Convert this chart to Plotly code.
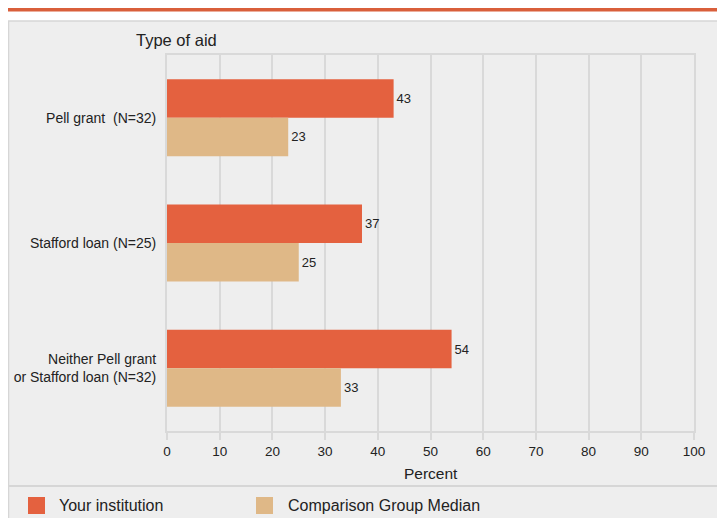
import plotly.graph_objects as go

categories = ["Pell grant  (N=32)", "Stafford loan (N=25)", "Neither Pell grant<br>or Stafford loan (N=32)"]
your_institution = [43, 37, 54]
comparison_median = [23, 25, 33]
series_names = ["Your institution", "Comparison Group Median"]
x_ticks = [0, 10, 20, 30, 40, 50, 60, 70, 80, 90, 100]

ORANGE = "#e4613f"
TAN = "#dfb887"
GRID = "#d9d9d9"
BG = "#eeeeee"
TXT = "#222222"
FONT = "Liberation Sans, Arial, sans-serif"

OFF = 8  # page body margin
W, H = 725 - OFF, 518 - OFF
# plot area in page pixels of the reference
L, R, T, B = 167, 694, 55, 431
PW, PH = R - L, B - T


def px(x):
    return (x - L) / PW


def py(y):
    return (B - y) / PH


fig = go.Figure()
fig.add_trace(go.Bar(
    y=categories, x=your_institution, name=series_names[0], orientation="h",
    marker=dict(color=ORANGE, line=dict(width=0)),
    text=your_institution, textposition="outside", cliponaxis=False,
    textfont=dict(size=13, color=TXT, family=FONT),
))
fig.add_trace(go.Bar(
    y=categories, x=comparison_median, name=series_names[1], orientation="h",
    marker=dict(color=TAN, line=dict(width=0)),
    text=comparison_median, textposition="outside", cliponaxis=False,
    textfont=dict(size=13, color=TXT, family=FONT),
))

shapes = [
    # grey panel
    dict(type="rect", xref="paper", yref="paper", x0=px(8.5), x1=px(730), y0=py(21), y1=py(530),
         fillcolor=BG, line=dict(color="#d6d6d6", width=1.5), layer="below"),
    # orange top rule
    dict(type="rect", xref="paper", yref="paper", x0=px(8), x1=px(730), y0=py(6.5), y1=py(11.5),
         fillcolor="#d95f3b", line=dict(width=0), layer="below"),
    # separator above legend
    dict(type="line", xref="paper", yref="paper", x0=px(8), x1=px(730), y0=py(486), y1=py(486),
         line=dict(color="#d6d6d6", width=2), layer="below"),
    # legend swatches
    dict(type="rect", xref="paper", yref="paper", x0=px(28), x1=px(45), y0=py(497), y1=py(514),
         fillcolor=ORANGE, line=dict(width=0)),
    dict(type="rect", xref="paper", yref="paper", x0=px(256), x1=px(273), y0=py(497), y1=py(514),
         fillcolor=TAN, line=dict(width=0)),
]

annotations = [
    dict(text="Type of aid", xref="paper", yref="paper", x=px(134), y=py(40),
         xanchor="left", yanchor="middle", showarrow=False,
         font=dict(size=16.5, color=TXT, family=FONT)),
    dict(text="Percent", xref="paper", yref="paper", x=0.5, y=py(473),
         xanchor="center", yanchor="middle", showarrow=False,
         font=dict(size=15.5, color=TXT, family=FONT)),
    dict(text=series_names[0], xref="paper", yref="paper", x=px(57), y=py(505),
         xanchor="left", yanchor="middle", showarrow=False,
         font=dict(size=16, color=TXT, family=FONT)),
    dict(text=series_names[1], xref="paper", yref="paper", x=px(286), y=py(505),
         xanchor="left", yanchor="middle", showarrow=False,
         font=dict(size=16, color=TXT, family=FONT)),
]

fig.update_layout(
    width=W, height=H,
    margin=dict(l=L - OFF, r=725 - R, t=T - OFF, b=518 - B, pad=0, autoexpand=False),
    paper_bgcolor="white", plot_bgcolor=BG,
    barmode="group", bargap=0.385, bargroupgap=0,
    showlegend=False,
    shapes=shapes, annotations=annotations,
    font=dict(family=FONT, color=TXT),
    xaxis=dict(
        range=[0, 100], tickvals=x_ticks, showgrid=True, gridcolor=GRID, gridwidth=2,
        zeroline=False, showline=True, linecolor=GRID, linewidth=2, mirror=True,
        ticks="outside", ticklen=7, tickwidth=2, tickcolor=GRID,
        tickfont=dict(size=13.5, color=TXT, family=FONT),
        fixedrange=True, automargin=False,
    ),
    yaxis=dict(
        autorange="reversed", showgrid=False, zeroline=False,
        showline=True, linecolor=GRID, linewidth=2, mirror=True,
        ticks="", ticklabelstandoff=6,
        tickfont=dict(size=14, color=TXT, family=FONT),
        fixedrange=True, automargin=False,
    ),
)

fig.write_html("out.html", config={"displayModeBar": False})
